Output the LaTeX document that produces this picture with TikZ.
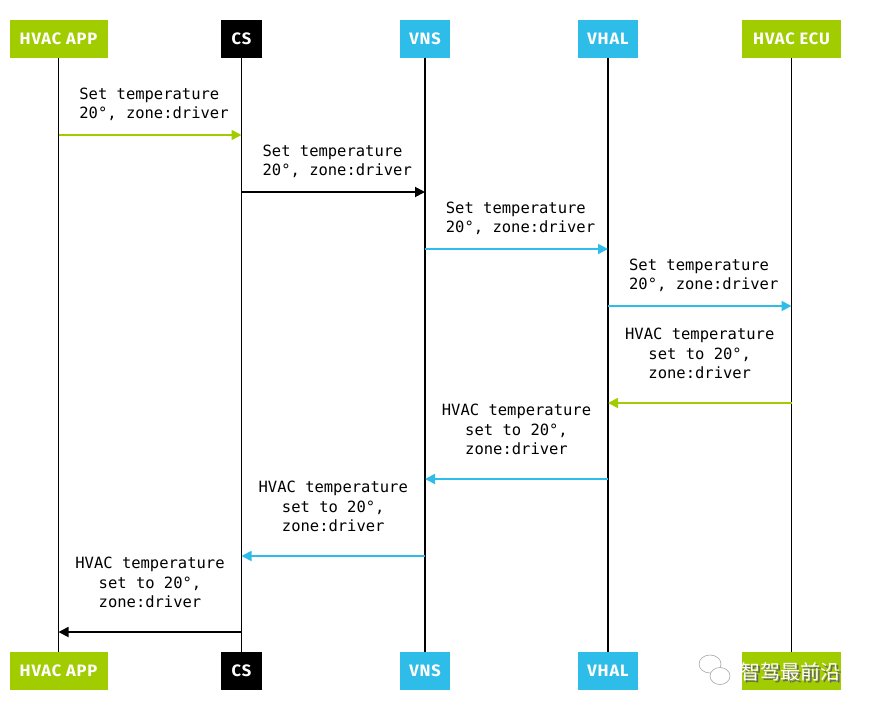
\documentclass[tikz,border=0pt]{standalone}
\usepackage{fontspec}
\usepackage{tikz}
\usetikzlibrary{arrows.meta, positioning}
\newfontfamily\hdfont[LetterSpace=5]{Fira Sans}
\newfontfamily\msgfont{DejaVu Sans Mono}
\newfontfamily\cjkfont{Noto Sans CJK SC}
\definecolor{hvgreen}{RGB}{160,204,0}
\definecolor{hvblue}{RGB}{46,188,232}
\tikzset{
  actor/.style={minimum height=38pt, inner sep=0pt, text=white,
    font=\hdfont\fontsize{16.5}{18}\selectfont\bfseries},
  life/.style={line width=1.8pt, draw=black},
  msg/.style={line width=1.8pt, -{Triangle[length=10pt, width=10pt]}},
  req/.style={font=\msgfont\fontsize{15.5}{19.5}\selectfont, align=left, above=10pt},
  rsp/.style={font=\msgfont\fontsize{15.5}{19.5}\selectfont, align=center, above=20pt},
}

\begin{document}
\begin{tikzpicture}[x=1pt, y=-1pt]
  \useasboundingbox (0,0) rectangle (869,710);
  % actors, top
  \node[actor, fill=hvgreen, minimum width=98pt] (appT) at (58.5,39) {HVAC APP};
  \node[actor, fill=black, minimum width=41pt] (csT) at (241.5,39) {CS};
  \node[actor, fill=hvblue, minimum width=50pt] (vnsT) at (425,39) {VNS};
  \node[actor, fill=hvblue, minimum width=60pt] (vhalT) at (608,39) {VHAL};
  \node[actor, fill=hvgreen, minimum width=99pt] (ecuT) at (791.5,39) {HVAC ECU};
  % actors, bottom
  \node[actor, fill=hvgreen, minimum width=98pt] (appB) at (58.5,671) {HVAC APP};
  \node[actor, fill=black, minimum width=41pt] (csB) at (241.5,671) {CS};
  \node[actor, fill=hvblue, minimum width=50pt] (vnsB) at (425,671) {VNS};
  \node[actor, fill=hvblue, minimum width=60pt] (vhalB) at (608,671) {VHAL};
  \node[actor, fill=hvgreen, minimum width=99pt] (ecuB) at (791.5,671) {};
  % lifelines
  \foreach \a in {app, cs, vns, vhal, ecu}
    \draw[life] (\a T.south) -- (\a B.north);
  % message levels
  \coordinate (m1) at (0,135);
  \coordinate (m2) at (0,192);
  \coordinate (m3) at (0,249);
  \coordinate (m4) at (0,306);
  \coordinate (m5) at (0,403);
  \coordinate (m6) at (0,479);
  \coordinate (m7) at (0,556);
  \coordinate (m8) at (0,632);
  % requests
  \draw[msg, hvgreen] (appT |- m1) -- node[req, text=black, xshift=4pt] {Set temperature\\20°, zone:driver} (csT |- m1);
  \draw[msg, black] (csT |- m2) -- node[req, text=black, xshift=4pt] {Set temperature\\20°, zone:driver} (vnsT |- m2);
  \draw[msg, hvblue] (vnsT |- m3) -- node[req, text=black, xshift=4pt] {Set temperature\\20°, zone:driver} (vhalT |- m3);
  \draw[msg, hvblue] (vhalT |- m4) -- node[req, text=black, xshift=4pt] {Set temperature\\20°, zone:driver} (ecuT |- m4);
  % responses
  \draw[msg, hvgreen] (ecuT |- m5) -- node[rsp, text=black] {HVAC temperature\\set to 20°,\\zone:driver} (vhalT |- m5);
  \draw[msg, hvblue] (vhalT |- m6) -- node[rsp, text=black] {HVAC temperature\\set to 20°,\\zone:driver} (vnsT |- m6);
  \draw[msg, hvblue] (vnsT |- m7) -- node[rsp, text=black] {HVAC temperature\\set to 20°,\\zone:driver} (csT |- m7);
  \draw[msg, black] (csT |- m8) -- node[rsp, text=black] {HVAC temperature\\set to 20°,\\zone:driver} (appT |- m8);
  % watermark
  \draw[gray!70, line width=0.6pt, fill=white] (710,664) ellipse (11pt and 9pt);
  \draw[gray!70, line width=0.6pt, fill=white] (720,676) ellipse (10pt and 8.5pt);
  \node[font=\cjkfont\fontsize{20}{20}\selectfont, text=black!60, anchor=west] (wmS) at (738.5,673.5) {智驾最前沿};
  \node[font=\cjkfont\fontsize{20}{20}\selectfont, text=white, anchor=west] (wm) at (737,672) {智驾最前沿};
\end{tikzpicture}
\end{document}
